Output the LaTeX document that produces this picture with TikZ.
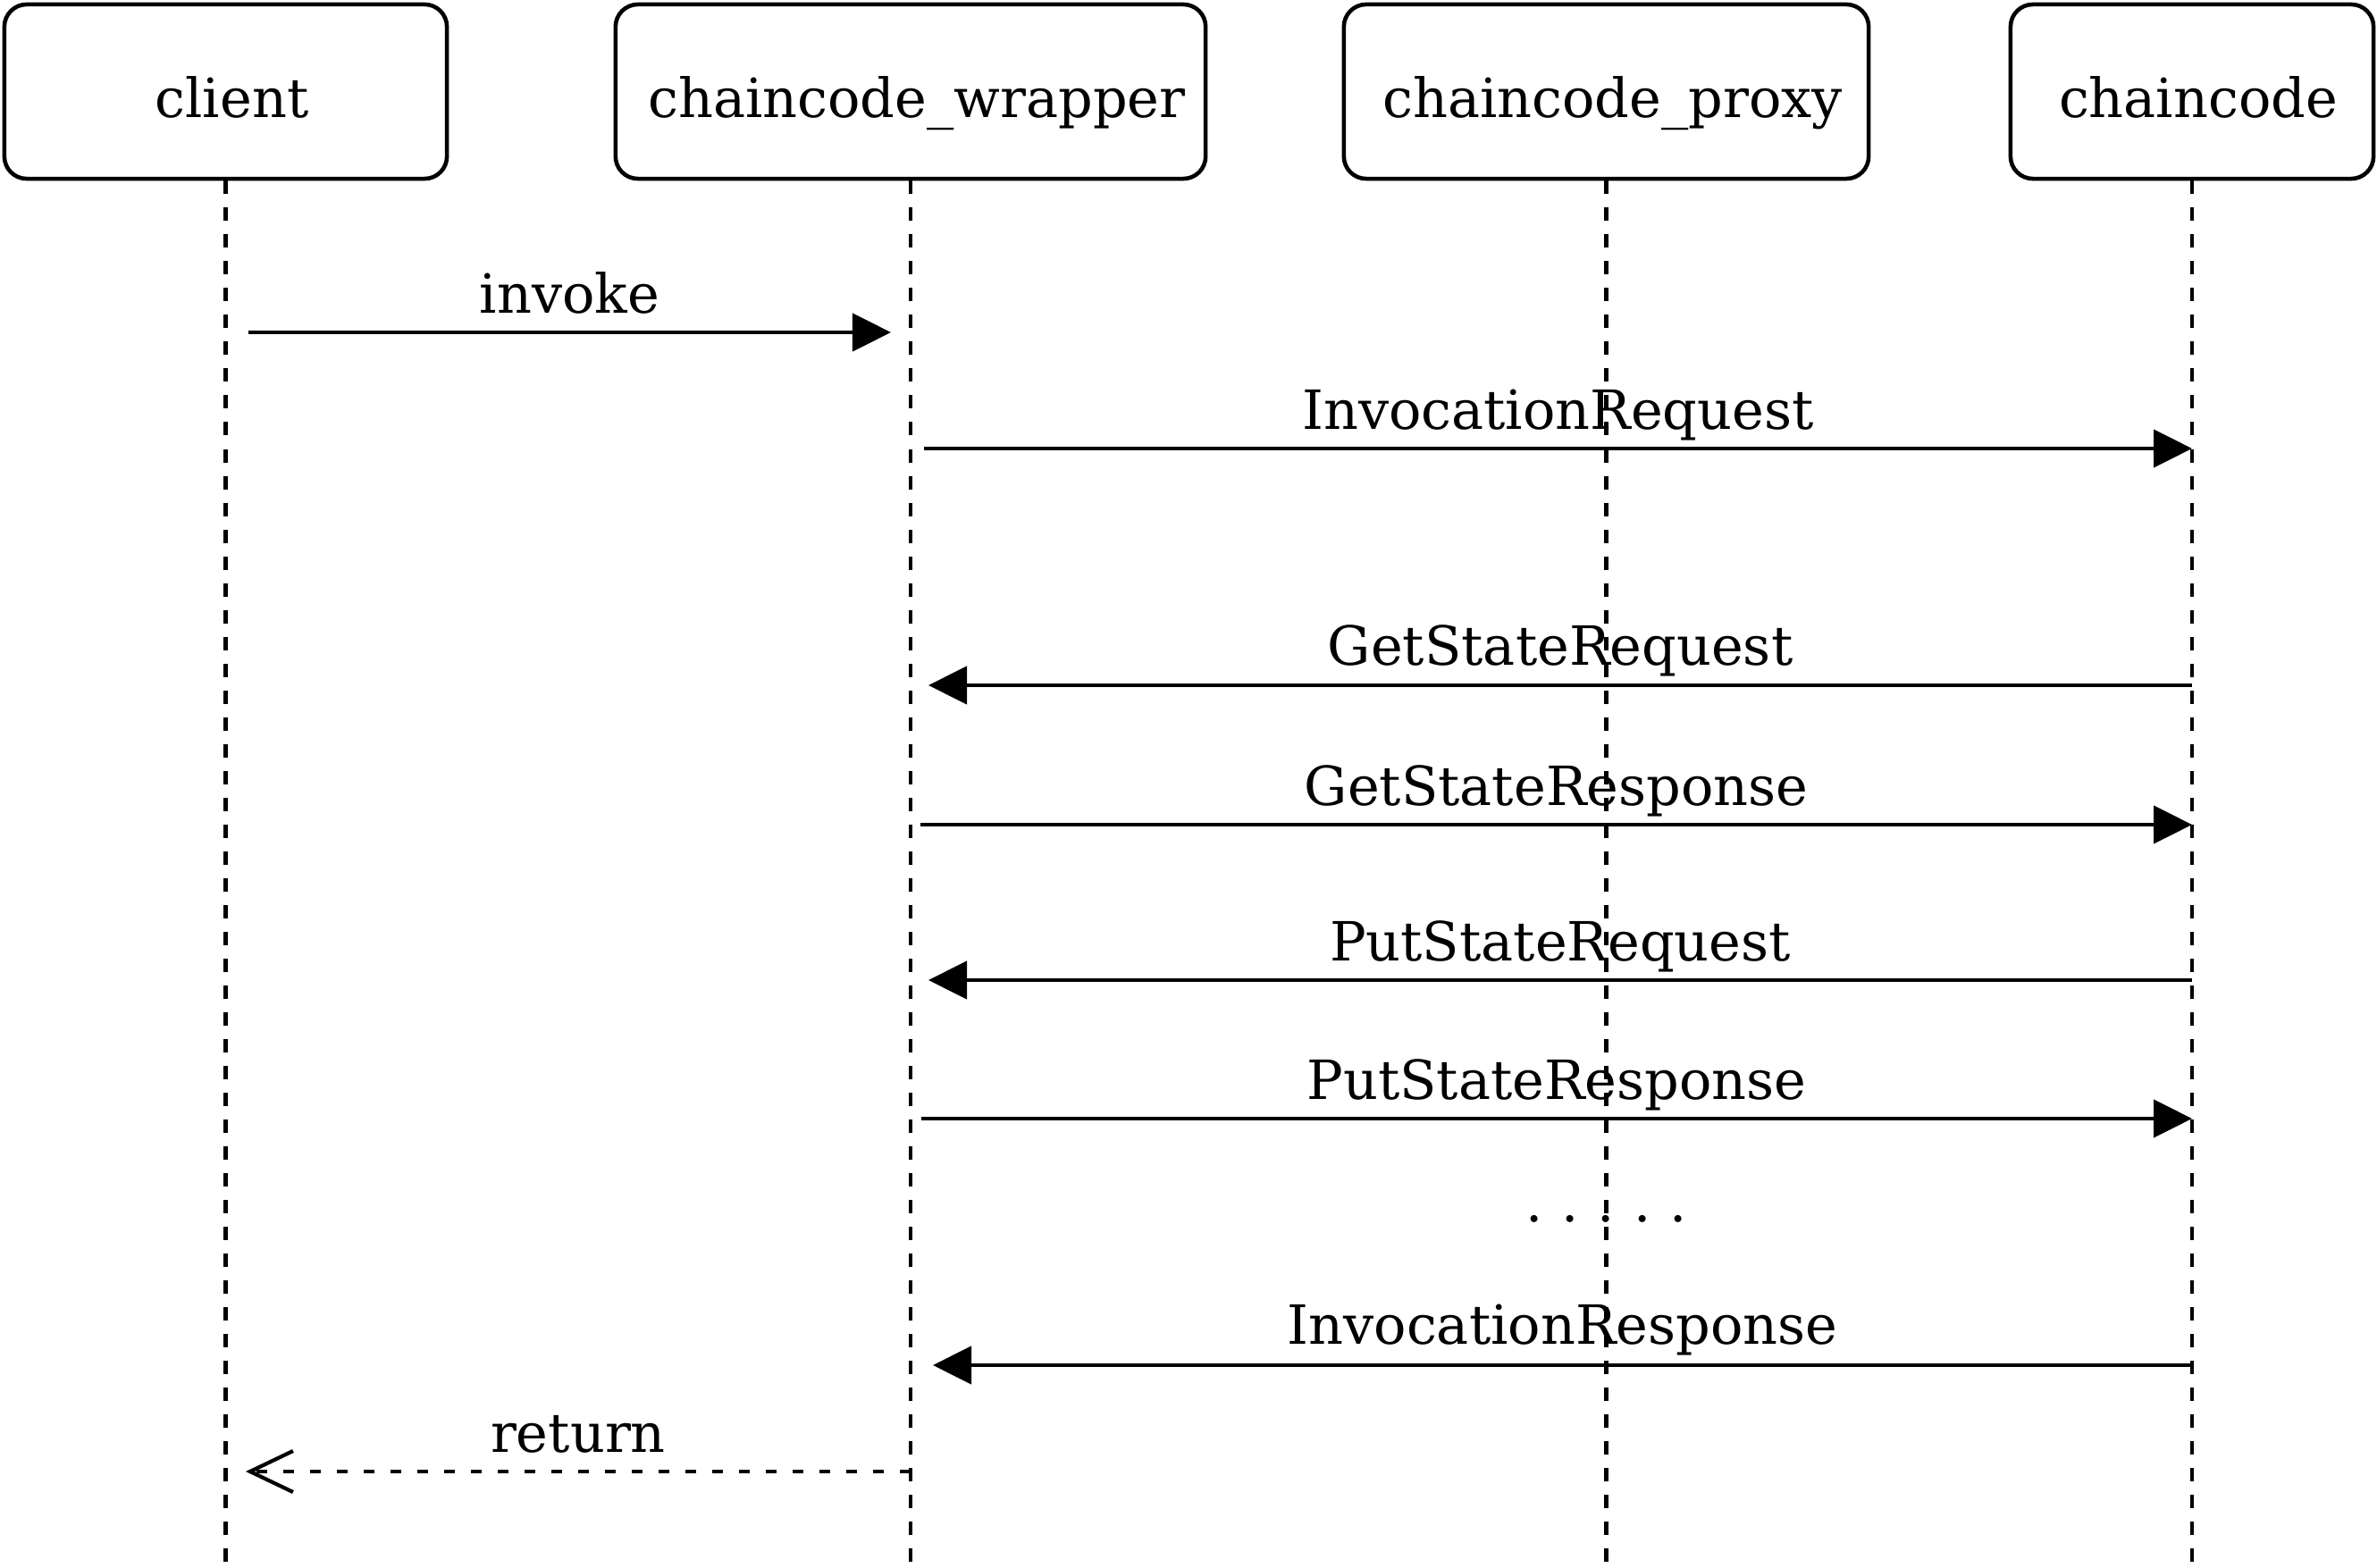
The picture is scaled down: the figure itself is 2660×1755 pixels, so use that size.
\documentclass[tikz,border=0pt]{standalone}
\usepackage{fontspec}
\setmainfont{DejaVu Serif}
\usetikzlibrary{arrows.meta}
\newcommand{\boxpad}{\hspace*{0.14cm}}
\begin{document}
\begin{tikzpicture}[x=0.01cm,y=-0.01cm,
  actor/.style={draw, line width=1.3pt, rounded corners=0.25cm, inner sep=0pt,
    minimum height=1.95cm, text height=0.57cm, text depth=0pt,
    font=\fontsize{17.2}{20}\selectfont},
  lifeline/.style={line width=1.3pt, dash pattern=on 0.15cm off 0.15cm},
  msg/.style={line width=1.3pt, -{Triangle[length=0.43cm,width=0.42cm]}},
  ret/.style={line width=1.2pt, dash pattern=on 0.12cm off 0.18cm,
    -{Straight Barb[length=0.48cm,width=0.46cm]}},
  lbl/.style={anchor=base, inner sep=0pt, font=\fontsize{17.2}{20}\selectfont}]
\useasboundingbox (0,0) rectangle (2660,1755);

% actors
\node[actor, minimum width=4.95cm] (client) at (252.5,102.5) {\boxpad client};
\node[actor, minimum width=6.60cm] (wrapper) at (1019,102.5) {\boxpad chaincode\_wrapper};
\node[actor, minimum width=5.87cm] (proxy) at (1797.5,102.5) {\boxpad chaincode\_proxy};
\node[actor, minimum width=4.06cm] (cc) at (2453,102.5) {\boxpad chaincode};

% lifeline ends
\coordinate (clientEnd) at (252.5,1755);
\coordinate (wrapperEnd) at (1019,1755);
\coordinate (proxyEnd) at (1797.5,1755);
\coordinate (ccEnd) at (2453,1755);

\draw[lifeline] (client.south) -- (clientEnd);
\draw[lifeline] (wrapper.south) -- (wrapperEnd);
\draw[lifeline] (proxy.south) -- (proxyEnd);
\draw[lifeline] (cc.south) -- (ccEnd);

% message end points
\coordinate (m1a) at (278,372);  \coordinate (m1b) at (997,372);
\coordinate (m2a) at (1034,502); \coordinate (m2b) at (2453,502);
\coordinate (m3a) at (2453,767); \coordinate (m3b) at (1039,767);
\coordinate (m4a) at (1030,923); \coordinate (m4b) at (2453,923);
\coordinate (m5a) at (2453,1097); \coordinate (m5b) at (1039,1097);
\coordinate (m6a) at (1031,1252); \coordinate (m6b) at (2453,1252);
\coordinate (m7a) at (2453,1528); \coordinate (m7b) at (1044,1528);
\coordinate (m8a) at (1019,1647); \coordinate (m8b) at (275,1647);

\draw[msg] (m1a) -- node[lbl, yshift=0.21cm] (l1) {invoke} (m1b);
\draw[msg] (m2a) -- node[lbl, yshift=0.21cm] (l2) {InvocationRequest} (m2b);
\draw[msg] (m3a) -- node[lbl, yshift=0.22cm] (l3) {GetStateRequest} (m3b);
\draw[msg] (m4a) -- node[lbl, yshift=0.21cm] (l4) {GetStateResponse} (m4b);
\draw[msg] (m5a) -- node[lbl, yshift=0.21cm] (l5) {PutStateRequest} (m5b);
\draw[msg] (m6a) -- node[lbl, yshift=0.21cm] (l6) {PutStateResponse} (m6b);
\draw[msg] (m7a) -- node[lbl, yshift=0.23cm] (l7) {InvocationResponse} (m7b);
\draw[ret] (m8a) -- node[lbl, yshift=0.21cm] (l8) {return} (m8b);

\node[lbl] (dots) at (1797.5,1367) {.\kern0.21cm.\kern0.21cm.\kern0.21cm.\kern0.21cm.};
\end{tikzpicture}
\end{document}
